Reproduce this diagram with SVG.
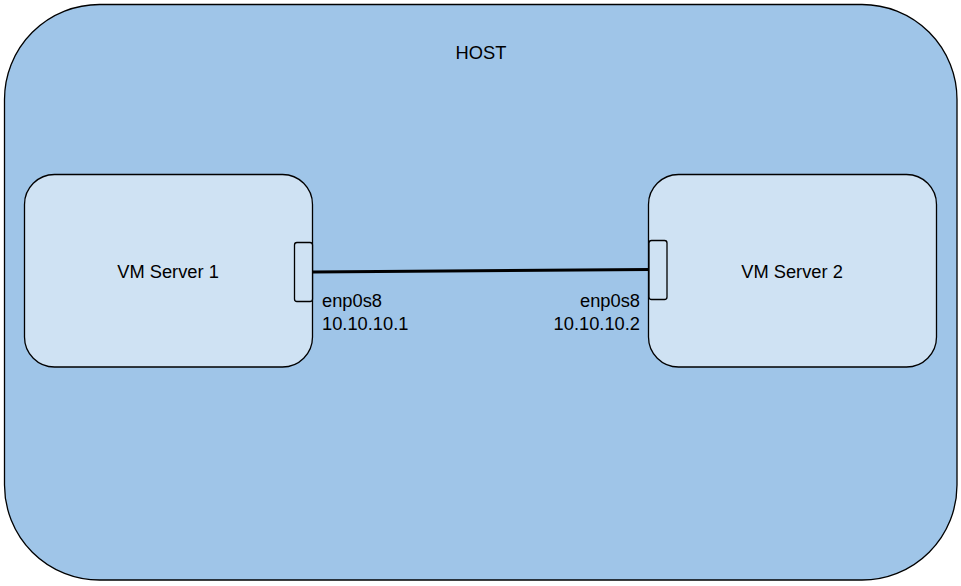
<svg xmlns="http://www.w3.org/2000/svg" width="961" height="586" viewBox="0 0 961 586">
<style>
text{font-family:"Liberation Sans",Arial,sans-serif;font-size:18.3px;fill:#000}
.host{fill:#9fc5e8;stroke:#000;stroke-width:1.3}
.vm{fill:#cfe2f3;stroke:#000;stroke-width:1.3}
.port{fill:#cfe2f3;stroke:#000;stroke-width:1.3}
.link{stroke:#000;stroke-width:3;fill:none}
</style>
<rect width="961" height="586" fill="#fff"/>
<g id="host">
<rect class="host" x="4.5" y="4.5" width="952.5" height="575.5" rx="95" ry="95"/>
<text x="481" y="59" text-anchor="middle">HOST</text>
</g>
<g id="vm1">
<rect class="vm" x="24.5" y="174.5" width="288" height="192.5" rx="30" ry="30"/>
<text x="168" y="278" text-anchor="middle">VM Server 1</text>
</g>
<g id="vm2">
<rect class="vm" x="648.5" y="174.5" width="288" height="192.5" rx="30" ry="30"/>
<text x="792" y="278" text-anchor="middle">VM Server 2</text>
</g>
<g id="port1">
<rect class="port" x="294.5" y="242.5" width="18" height="59" rx="2.5" ry="2.5"/>
<text x="322" y="307">enp0s8</text>
<text x="322" y="330">10.10.10.1</text>
</g>
<g id="port2">
<rect class="port" x="649" y="240.5" width="18" height="59" rx="2.5" ry="2.5"/>
<text x="640" y="307" text-anchor="end">enp0s8</text>
<text x="640" y="330" text-anchor="end">10.10.10.2</text>
</g>
<g id="connectors">
<line class="link" x1="312.5" y1="272" x2="649" y2="269.5"/>
</g>
</svg>
